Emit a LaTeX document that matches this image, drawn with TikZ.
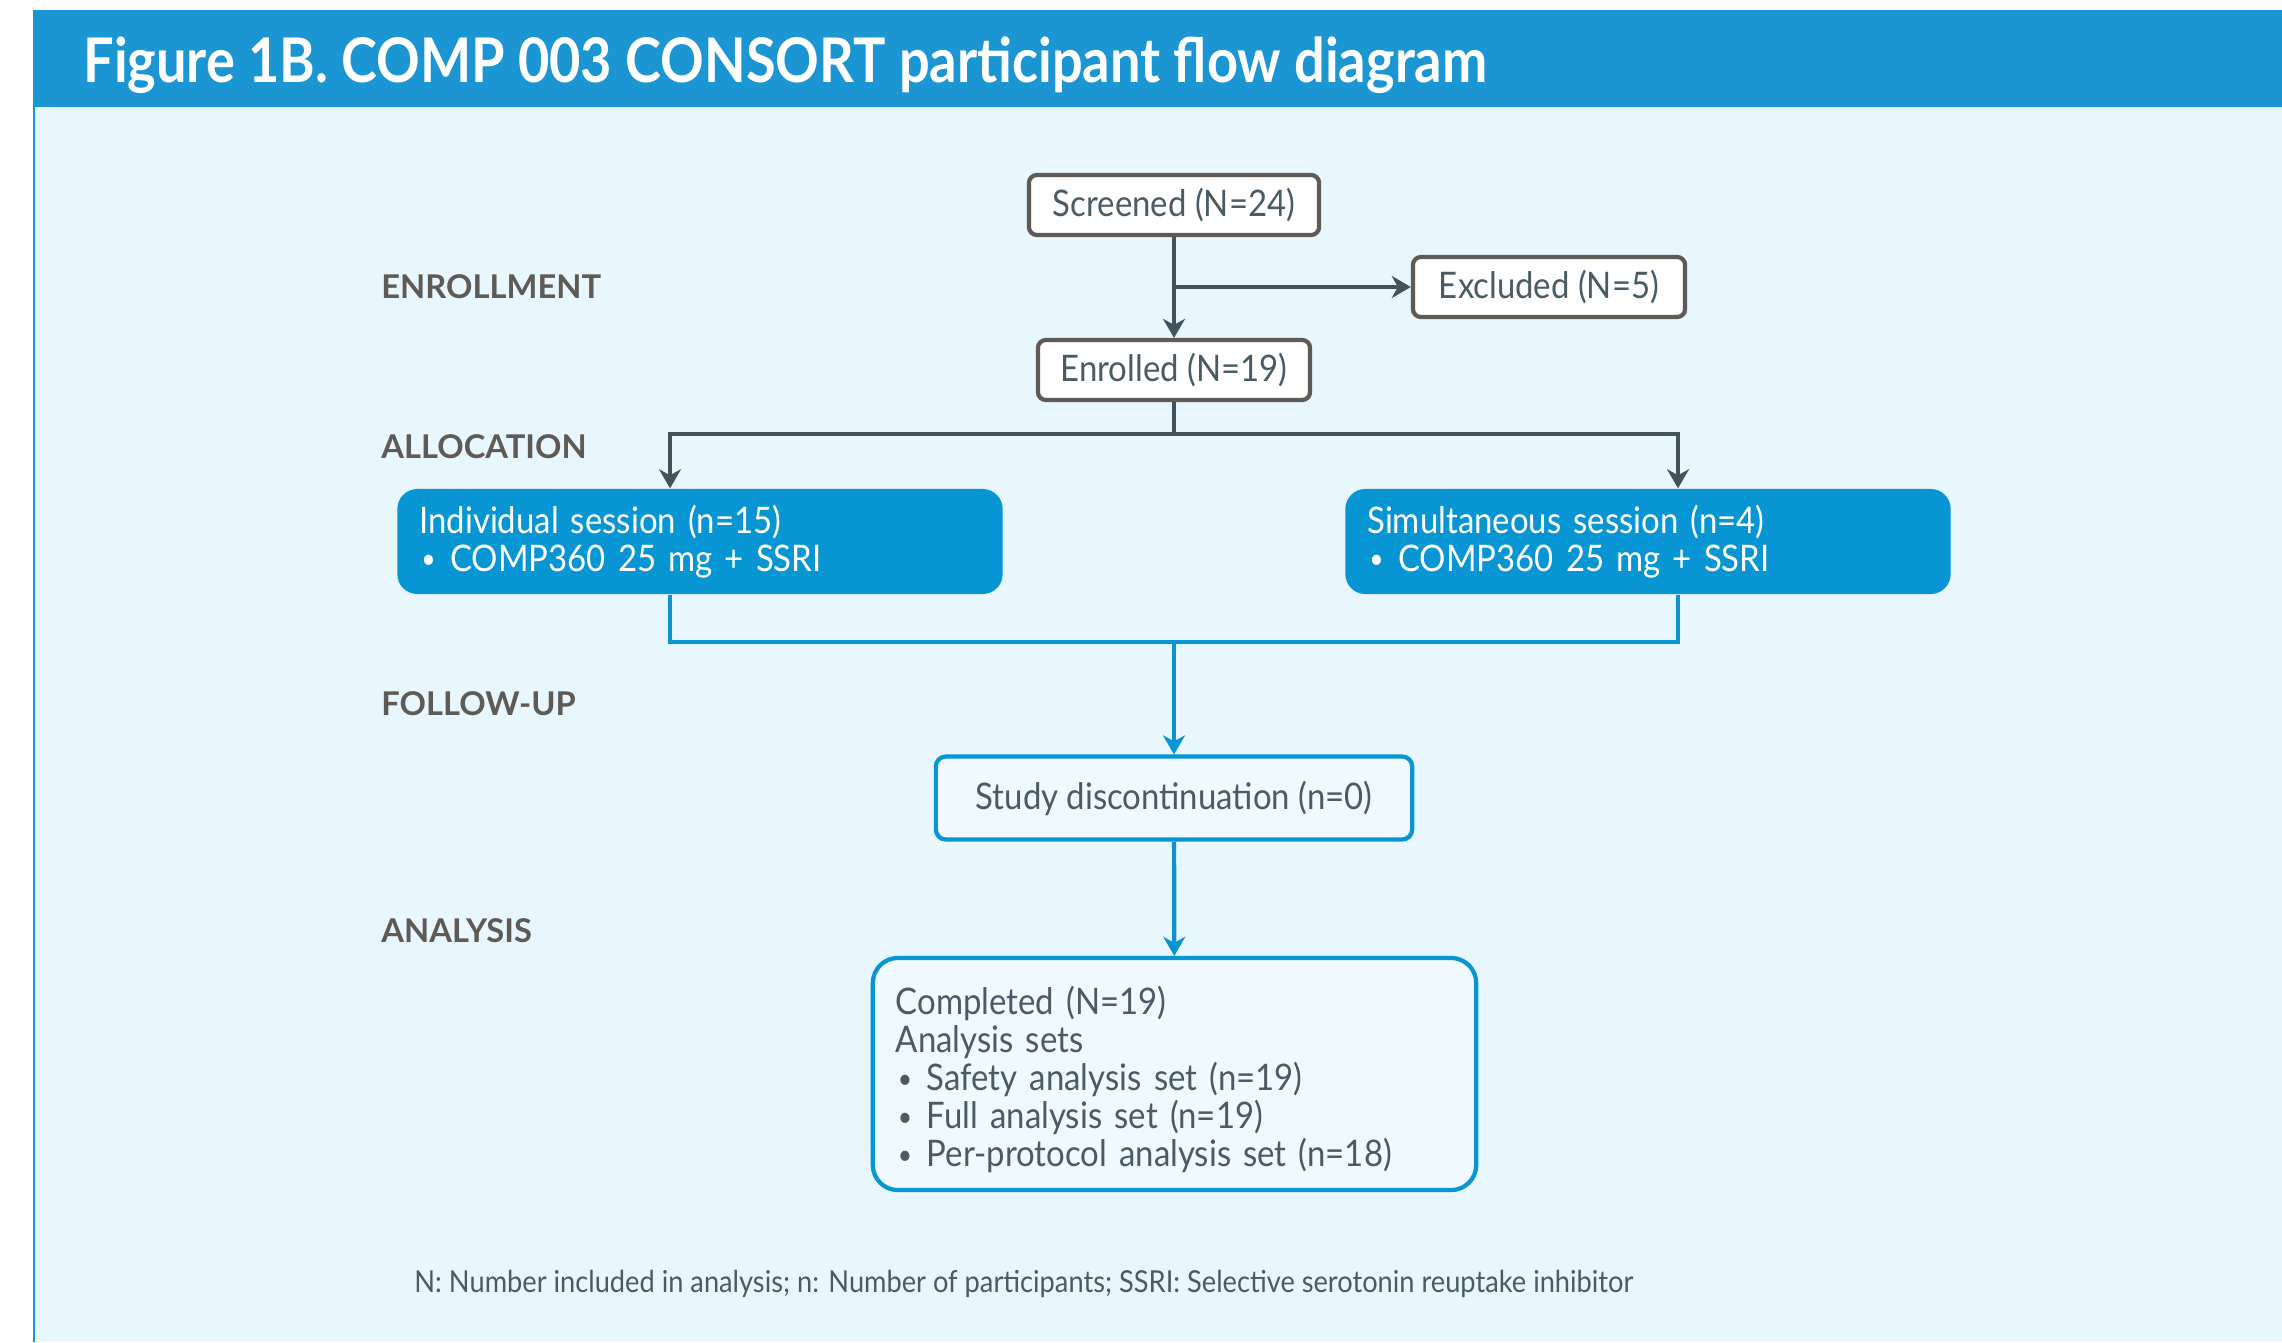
\documentclass[tikz,border=0pt]{standalone}
\usepackage{fontspec}
\setmainfont{Lato}
\newfontfamily\condfont{Lato}[FakeStretch=0.88]
\newfontfamily\bodyfont{Lato}[FakeStretch=0.9]
\usetikzlibrary{arrows.meta,positioning}
\definecolor{headblue}{HTML}{1B96D2}
\definecolor{panelblue}{HTML}{E8F6FD}
\definecolor{boxblue}{HTML}{0796D3}
\definecolor{linegray}{HTML}{44545C}
\definecolor{boxgray}{HTML}{5E5A56}
\definecolor{textgray}{HTML}{4A5B63}
\definecolor{labelgray}{HTML}{5E5A55}
\definecolor{palefill}{HTML}{EFF9FE}
\newcommand{\dotitem}{\makebox[0.31cm][l]{\hspace{0.02cm}\raisebox{0.15ex}{\scalebox{0.75}{•}}}}

\begin{document}
\begin{tikzpicture}[x=0.01cm,y=-0.01cm,
    boxfont/.style={font=\bodyfont\fontsize{10.4}{10.8}\selectfont},
    graybox/.style={draw=boxgray,fill=white,line width=1.2pt,rounded corners=0.08cm,
        boxfont,text=textgray,minimum height=0.6cm,inner xsep=0.2cm},
    bluebox/.style={fill=boxblue,rounded corners=0.2cm,boxfont,text=white,
        text width=5.61cm,inner xsep=0.22cm,minimum height=1.05cm,align=left},
    paleblue/.style={draw=boxblue,fill=palefill,line width=1.2pt,boxfont,text=textgray},
    stagelabel/.style={anchor=west,font=\bfseries\fontsize{9.3}{11}\selectfont,text=labelgray},
    grayline/.style={draw=linegray,line width=1.2pt},
    blueline/.style={draw=boxblue,line width=1.2pt},
    tip/.style={-{Stealth[length=0.19cm,width=0.22cm,inset=0.06cm]}},
    twotips/.style={{Stealth[length=0.19cm,width=0.22cm,inset=0.06cm]}-{Stealth[length=0.19cm,width=0.22cm,inset=0.06cm]}}]
\useasboundingbox (0,0) rectangle (2282,1342);
\fill[white] (0,0) rectangle (2282,1342);
\fill[panelblue] (33,107) rectangle (2282,1342);
\fill[headblue] (33,10) rectangle (2282,107);
\draw[headblue,line width=0.6pt] (34,107) -- (34,1342);
\node[anchor=west,text=white,font=\condfont\bfseries\fontsize{17.5}{19}\selectfont] (title) at (71,65)
    {Figure 1B. COMP 003 CONSORT participant flow diagram};

% stage labels
\foreach \lbl/\ypos [count=\i] in {ENROLLMENT/287,ALLOCATION/447,FOLLOW-UP/704,ANALYSIS/931}
    \node[stagelabel] (stage\i) at (369,\ypos) {\lbl};

% enrollment
\node[graybox,minimum width=2.9cm] (screen) at (1174,205) {Screened (N=24)};
\node[graybox,minimum width=2.72cm] (excl) at (1549,287) {Excluded (N=5)};
\node[graybox,minimum width=2.72cm] (enrol) at (1174,370) {Enrolled (N=19)};
\coordinate (split) at (screen.south |- excl.west);
\draw[grayline,tip] (screen) -- (enrol);
\draw[grayline,tip] (split) -- (excl);

% allocation
\node[bluebox] (indiv) at (700,541.5) {Individual session (n=15)\\\dotitem COMP360 25 mg + SSRI};
\node[bluebox] (simul) at (1648,541.5) {Simultaneous session (n=4)\\\dotitem COMP360 25 mg + SSRI};
\coordinate (allocL) at (670,434);
\coordinate (allocR) at (1678,434);
\draw[grayline] (enrol) -- (enrol |- allocL);
\draw[grayline,twotips] (allocL |- indiv.north) -- (allocL) -- (allocR) -- (allocR |- simul.north);

% follow-up
\node[paleblue,rounded corners=0.1cm,minimum width=4.76cm,minimum height=0.83cm] (disc) at (1174,798) {Study discontinuation (n=0)};
\coordinate (joinL) at (670,642);
\coordinate (joinR) at (1678,642);
\draw[blueline] (joinL |- indiv.south) -- (joinL) -- (joinR) -- (joinR |- simul.south);
\draw[blueline,tip] (enrol |- joinL) -- (disc);

% analysis
\node[paleblue,rounded corners=0.25cm,text width=5.57cm,inner xsep=0.23cm,minimum height=2.32cm,align=left] (done) at (1174.5,1074)
    {\rule{0pt}{0.40cm}Completed (N=19)\\Analysis sets\\\dotitem Safety analysis set (n=19)\\\dotitem Full analysis set (n=19)\\\dotitem Per-protocol analysis set (n=18)};
\draw[blueline,tip] (disc) -- (done);

\node[anchor=west,text=textgray,font=\bodyfont\fontsize{8.6}{10}\selectfont] (note) at (402,1284)
    {N: Number included in analysis; n: Number of participants; SSRI: Selective serotonin reuptake inhibitor};
\end{tikzpicture}
\end{document}
